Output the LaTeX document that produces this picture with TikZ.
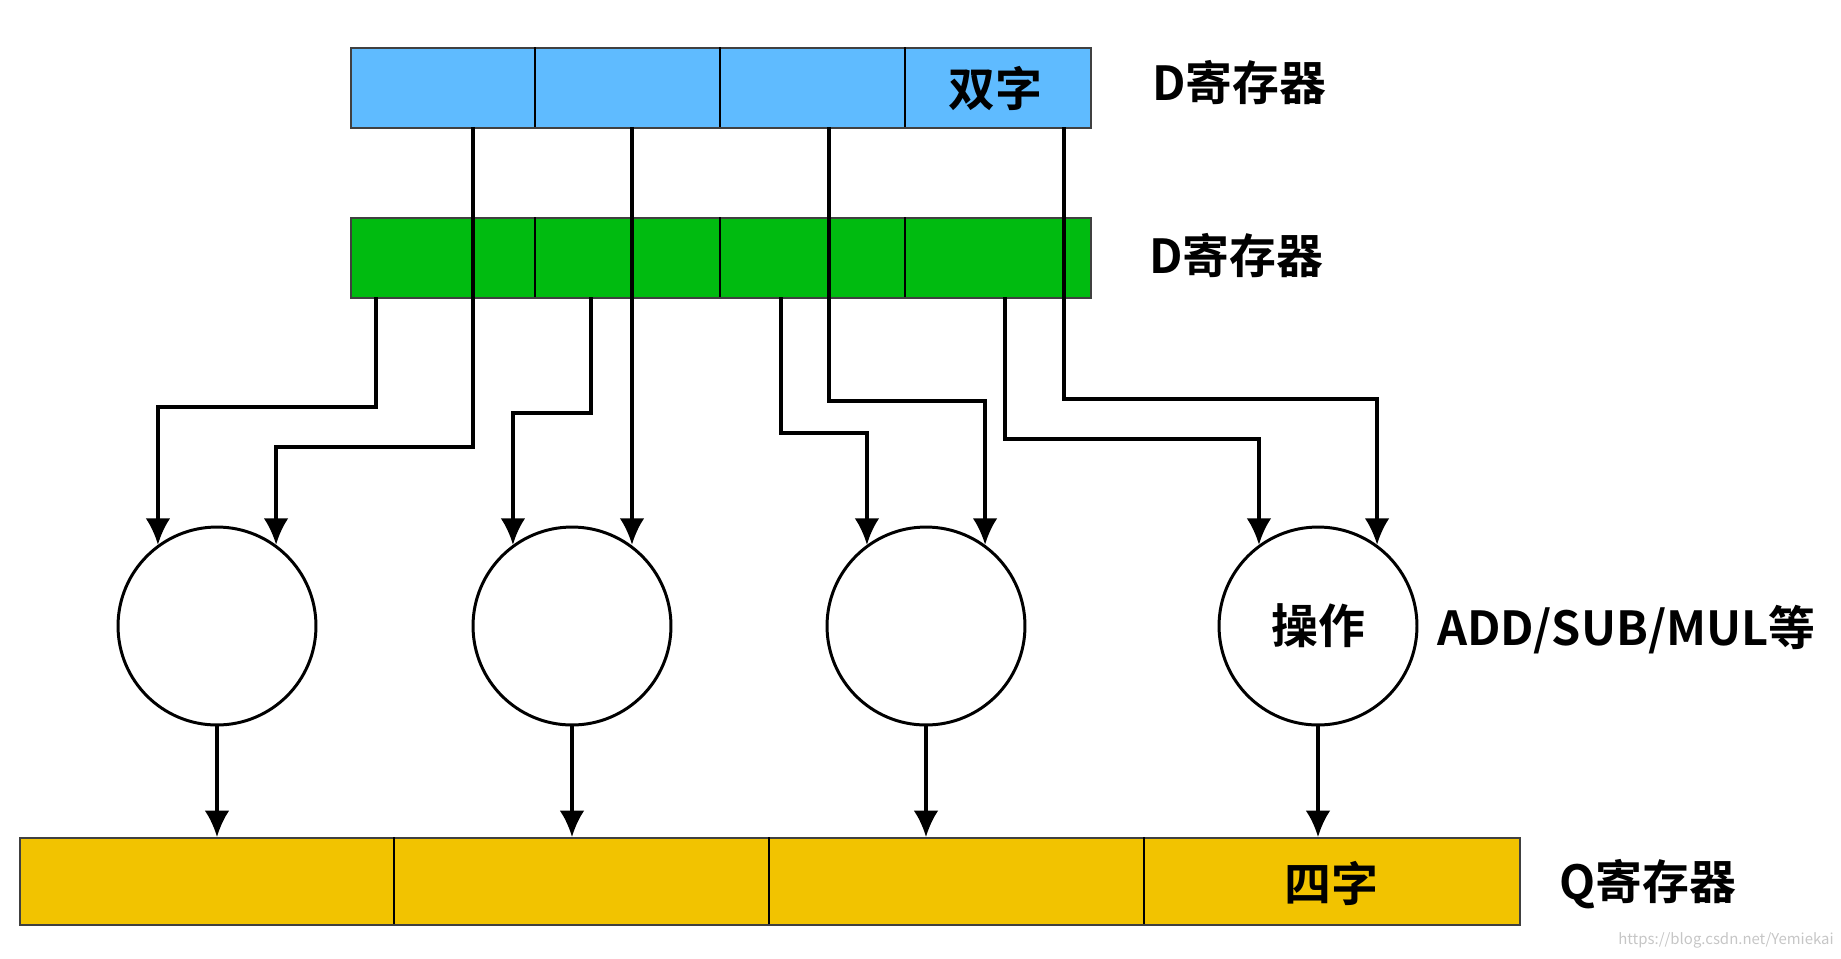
\documentclass[tikz,border=0pt]{standalone}
\usepackage{fontspec}
\setmainfont{Noto Sans CJK SC}[BoldFont={* Bold}]
\usetikzlibrary{arrows.meta}
\tikzset{>={Latex[length=15pt,width=14pt]}}
\definecolor{dblue}{HTML}{5FBBFF}
\definecolor{dgreen}{HTML}{00BB10}
\definecolor{qyellow}{HTML}{F2C300}
\definecolor{regedge}{HTML}{404040}

\begin{document}
\begin{tikzpicture}[x=0.02cm, y=-0.02cm,
    reg/.style={draw=regedge, line width=1.1pt, minimum height=1.6cm, anchor=north west, inner sep=0pt},
    opnode/.style={circle, draw, line width=1.7pt, minimum size=3.96cm, inner sep=0pt},
    wire/.style={line width=1.8pt},
    lbl/.style={font=\fontsize{26.7pt}{30pt}\selectfont\bfseries, inner sep=0pt, text height=23.5pt, text depth=3.2pt}]
    \useasboundingbox(0, 0)rectangle(1841, 958);
    % registers
    \node[reg, fill=dblue, minimum width=14.8cm](dw)at(350, 47){};
    \node[reg, fill=dgreen, minimum width=14.8cm](dd)at(350, 217){};
    \node[reg, fill=qyellow, minimum width=30cm, minimum height=1.74cm](qw)at(19, 837){};
    \foreach \x in {535, 720, 905}{
        \draw[line width=1.2pt](\x, 47)--(\x, 127);
        \draw[line width=1.2pt](\x, 217)--(\x, 297);
    }
    \foreach \x in {394, 769, 1144}
        \draw[line width=1.2pt](\x, 837)--(\x, 924);
    \node[lbl](dwtxt)at(995, 89){双字};
    \node[lbl](qwtxt)at(1331, 884){四字};
    \node[lbl, anchor=west](dlbl1)at(1152, 83){D寄存器};
    \node[lbl, anchor=west](dlbl2)at(1149, 256){D寄存器};
    \node[lbl, anchor=west](qlbl)at(1559, 882){Q寄存器};
    % operations
    \foreach \i/\x in {1/217, 2/572, 3/926}
        \node[opnode](op\i)at(\x, 626){};
    \node[opnode](op4)at(1318, 626){};
    \node[lbl](optxt)at(op4){操作};
    \node[lbl, anchor=west](oplbl)at(1437, 628){ADD/SUB/MUL等};
    % taps
    \foreach \n/\x in {1/473, 2/632, 3/829, 4/1064}
        \coordinate(b\n)at(\x, 127);
    \foreach \n/\x in {1/376, 2/591, 3/781, 4/1005}
        \coordinate(g\n)at(\x, 297);
    \draw[wire, ->](g1)--++(0, 110)-|(op1.126);
    \draw[wire, ->](b1)--++(0, 320)-|(op1.54);
    \draw[wire, ->](g2)--++(0, 116)-|(op2.126);
    \draw[wire, ->](b2)--(b2|-op2.54);
    \draw[wire, ->](g3)--++(0, 136)-|(op3.126);
    \draw[wire, ->](b3)--++(0, 274)-|(op3.54);
    \draw[wire, ->](g4)--++(0, 142)-|(op4.126);
    \draw[wire, ->](b4)--++(0, 272)-|(op4.54);
    \foreach \i in {1, ..., 4}
        \draw[wire, ->](op\i.south)--(op\i.south|-qw.north);
    \node[font=\fontsize{8.5pt}{10pt}\selectfont, text=gray!45](wm)at(1726, 940){https://blog.csdn.net/Yemiekai};
\end{tikzpicture}
\end{document}
